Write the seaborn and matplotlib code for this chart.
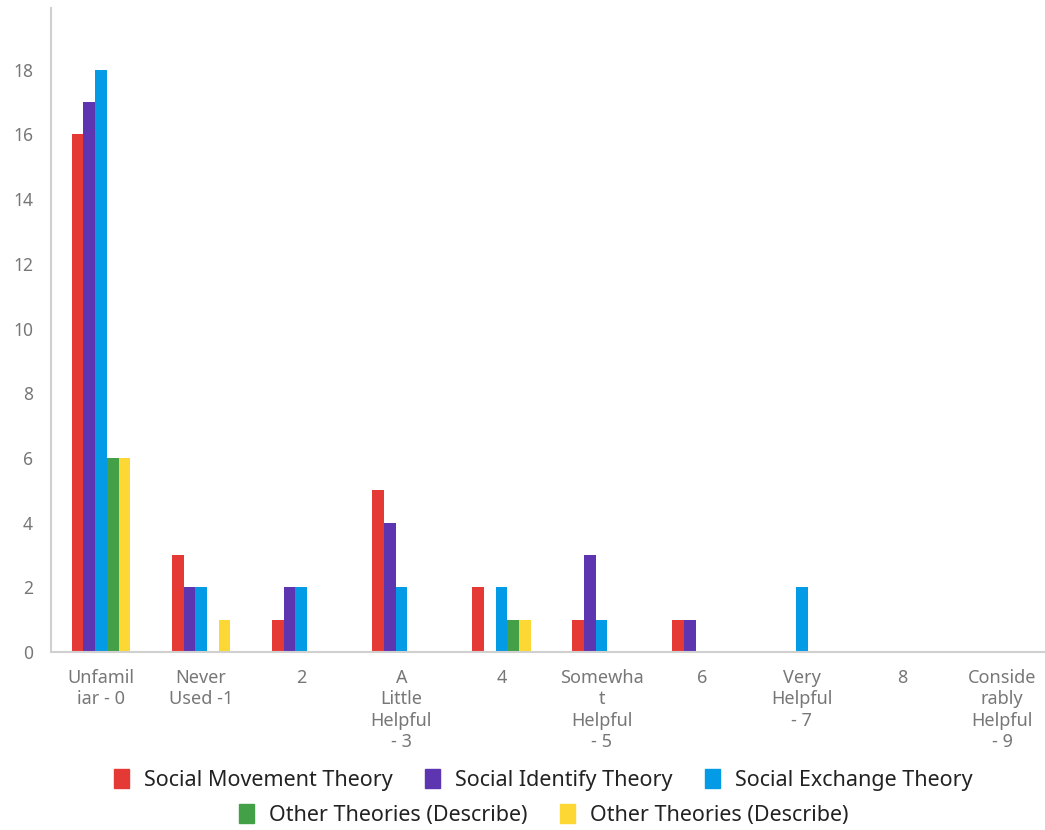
##Theory helpfulness survey - grouped bar chart
import pandas as pd
import matplotlib.pyplot as plt
import matplotlib.patches as mpatches
import seaborn as sns

#Categories on the x axis (wrapped like the original labels)
categories = ["Unfamil\niar - 0", "Never\nUsed -1", "2", "A\nLittle\nHelpful\n- 3", "4",
              "Somewha\nt\nHelpful\n- 5", "6", "Very\nHelpful\n- 7", "8",
              "Conside\nrably\nHelpful\n- 9"]

#Series names shown in the legend
series_labels = ["Social Movement Theory", "Social Identify Theory", "Social Exchange Theory",
                 "Other Theories (Describe)", "Other Theories (Describe)"]
series_keys = ["smt", "sit", "set", "other_a", "other_b"]
series_colors = ["#E53935", "#5E35B1", "#039BE5", "#43A047", "#FDD835"]

#Counts per category
social_movement = [16, 3, 1, 5, 2, 1, 1, 0, 0, 0]
social_identify = [17, 2, 2, 4, 0, 3, 1, 0, 0, 0]
social_exchange = [18, 2, 2, 2, 2, 1, 0, 2, 0, 0]
other_a = [6, 0, 0, 0, 1, 0, 0, 0, 0, 0]
other_b = [6, 1, 0, 0, 1, 0, 0, 0, 0, 0]

values = [social_movement, social_identify, social_exchange, other_a, other_b]

##Long-form dataframe for seaborn
rows = []
for key, vals in zip(series_keys, values):
    for cat, v in zip(categories, vals):
        rows.append({"category": cat, "series": key, "count": v})
df = pd.DataFrame(rows)

##Plot
sns.set_style("white")
plt.rcParams['font.family'] = ['Noto Sans', 'DejaVu Sans']

fig = plt.figure(figsize=(10.45, 8.3), dpi=100)
ax = fig.add_axes([0.0488, 0.2145, 0.958, 0.7755])

sns.barplot(data=df, x="category", y="count", hue="series", order=categories,
            hue_order=series_keys, palette=series_colors, width=0.585,
            saturation=1, linewidth=0, legend=False, ax=ax)

ax.set_xlim(-0.5, 9.5)
ax.set_ylim(0, 19.9)
ax.set_yticks(range(0, 19, 2))
ax.set_xlabel("")
ax.set_ylabel("")

#Spines
for side in ["top", "right"]:
    ax.spines[side].set_visible(False)
for side in ["left", "bottom"]:
    ax.spines[side].set_color("#d0d0d0")
    ax.spines[side].set_linewidth(1.5)

#Ticks
ax.tick_params(axis="y", length=7, width=1.5, color="#333333", labelcolor="#777777",
               labelsize=12.5, pad=6)
ax.tick_params(axis="x", which="major", length=0, labelcolor="#777777", labelsize=13, pad=12)
ax.set_xticks([i + 0.5 for i in range(9)], minor=True)
ax.tick_params(axis="x", which="minor", length=7, width=1.5, color="#333333")
for lbl in ax.get_xticklabels():
    lbl.set_linespacing(1.25)

#Legend in two centred rows
handles = [mpatches.Patch(color=c, label=l) for c, l in zip(series_colors, series_labels)]
leg_kw = dict(frameon=False, fontsize=15.5, handlelength=0.7, handleheight=1.0,
              handletextpad=0.7, columnspacing=1.5, loc="center")
leg1 = fig.legend(handles=handles[:3], ncol=3, bbox_to_anchor=(0.52, 0.06), **leg_kw)
leg2 = fig.legend(handles=handles[3:], ncol=2, bbox_to_anchor=(0.52, 0.018), **leg_kw)
for leg in (leg1, leg2):
    for t in leg.get_texts():
        t.set_color("#222222")

plt.savefig("out.png", dpi=100)
